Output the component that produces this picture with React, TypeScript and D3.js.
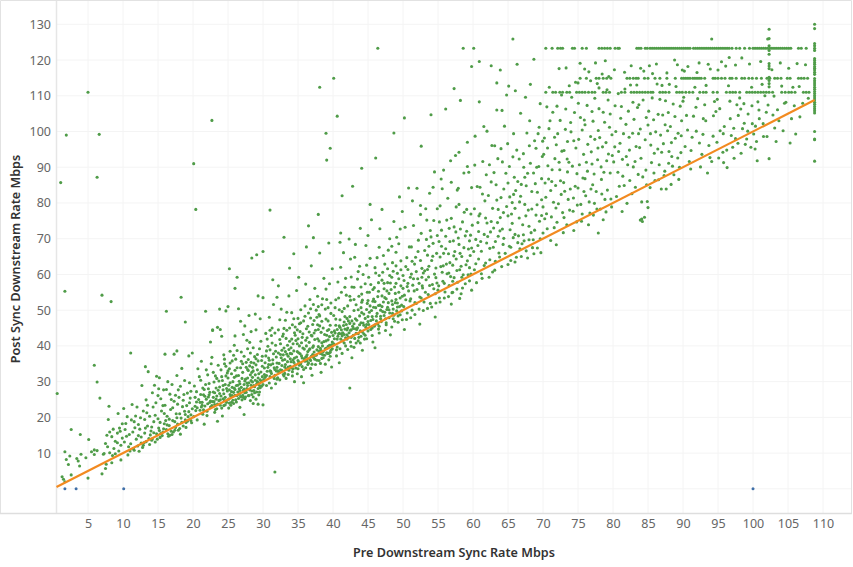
import { useEffect, useRef } from 'react'
import * as d3 from 'd3'

type Pt = [number, number]

const width = 853
const height = 567

const xTicks = d3.range(5, 111, 5)
const yTicks = d3.range(10, 131, 10)
const xTitle = 'Pre Downstream Sync Rate Mbps'
const yTitle = 'Post Sync Downstream Rate Mbps'

// pre / post rates with a zero post rate (blue marks)
const zeroPoints: Pt[] = [[1.7, 0], [3.3, 0], [10.1, 0], [100, 0]]

const outliers: Pt[] = [
  [0.6, 26.7], [1.1, 85.7], [1.9, 99], [5, 111], [6.6, 99.2], [6.3, 87.2], [1.7, 55.3], [7, 54.2], [8.3, 52.4],
  [5.9, 34.6], [6.3, 29.9], [6.7, 25.4], [11.1, 38], [16.2, 49.7], [18.3, 53.6], [18.9, 46.7], [26, 56.1],
  [31.7, 4.7], [20.1, 91], [22.7, 103.1], [20.4, 78.2], [31, 78], [46.4, 123.3], [38.1, 112.4], [40.1, 114.9],
  [40.6, 104.3], [39, 99.5], [39.6, 95.3], [39.1, 92], [42.4, 28.2], [25.2, 61.6], [26.3, 59.2], [29.1, 65.5],
  [30, 66.4], [28.4, 64.6], [33, 70.4], [36.5, 73.6], [37.9, 76.8], [41.3, 82], [42.8, 84.7], [44.1, 89.7],
  [45.3, 79.6], [46.1, 92.6], [48.7, 99.6], [50.2, 103.8], [52.6, 95.9], [54, 104.7], [57.3, 112], [59.8, 118.2],
  [60.9, 119.6], [62.6, 118.4], [65.7, 125.9], [63.4, 113.6], [58.2, 108.7], [56.1, 106.3], [100.6, 91.8], [95.8, 91.3],
  [105.3, 96.8], [102.1, 125.9], [94.1, 125.9], [97.5, 98], [84.2, 74.8], [83.9, 75.2], [71.9, 68.3], [77.9, 71.6],
]

const pointsTo10: Pt[] = [
  [1.3, 3.4], [1.5, 2.7], [1.7, 2], [1.7, 10.4], [2.4, 9.2], [1.9, 8.2], [2.2, 6.8], [2.6, 16.6], [2.6, 3.9], [3.9, 15.2],
  [3.4, 8.5], [3.6, 7.8], [3.8, 6.4], [4, 9.7], [4.7, 8.7], [5.1, 13.8], [5, 3], [5.5, 10.4], [5.9, 10.9], [5.9, 9.6],
  [6.3, 10.7], [7, 4.2], [7.5, 5.7], [7.2, 9.7], [7.6, 6.9], [8, 23.1], [7.9, 19.4], [7.7, 15], [7.5, 12.7], [8.4, 7.3],
  [9.3, 21.1], [8.1, 15.9], [8.4, 14.6], [8.6, 16.7], [8.9, 13.3], [9.2, 15.6], [9.5, 17], [9.7, 12.2], [9.9, 14.2], [8.1, 10.1],
  [8.5, 9.3], [8.9, 9.8], [9.4, 10.6], [9.7, 8.1], [9.2, 12.9], [7.3, 9.9], [7.8, 11.8], [8.7, 11.3], [9.9, 18.2], [9.6, 16.1],
]

const points10to20: Pt[] = [
  [10.1, 22.5], [11.3, 23.6], [10.6, 20.2], [12, 22.9], [12.9, 21.8], [10.4, 18.3], [11.2, 19.3], [12.2, 18], [13.1, 19.4], [13.8, 20.3],
  [10.2, 13.1], [10.5, 14.7], [10.8, 11.8], [11.1, 12.6], [11.4, 15.9], [11.6, 10.8], [11.9, 13.9], [12.1, 12], [12.4, 16.7], [12.6, 14.5],
  [12.8, 11.6], [13.1, 15.6], [13.3, 13.2], [13.5, 17.6], [13.8, 12.4], [14, 16.2], [14.2, 14], [14.4, 18.8], [14.6, 13.1], [14.8, 15.4],
  [15, 19.6], [15.1, 17], [15.3, 14.4], [15.5, 21.8], [15.7, 15.9], [15.9, 18.2], [16, 23.4], [16.2, 16.6], [16.3, 20.3], [16.5, 14.7],
  [16.6, 17.7], [16.8, 22.2], [17, 15.2], [17.1, 19.1], [17.3, 24.5], [17.4, 16.4], [17.6, 21], [17.8, 18.1], [18, 25.6], [18.1, 16.9],
  [18.3, 19.8], [18.5, 23], [18.6, 17.6], [18.8, 21.7], [19, 18.6], [19.2, 26.8], [19.3, 20.2], [19.5, 24.1], [19.7, 19.1], [19.9, 22.4],
  [10.7, 9.5], [11.5, 11.2], [12.3, 10.5], [13, 12.9], [14.1, 13.6], [14.9, 13.9], [15.6, 14.9], [16.4, 15.4], [17.2, 15.9], [18.2, 15.3],
  [19, 17.2], [19.8, 18.5], [14.5, 29], [14.8, 31.5], [15.2, 31.1], [15.8, 27.7], [16.4, 30], [17, 29.2], [17.7, 31.7], [18.8, 30.3],
  [19.5, 29.7], [13.2, 34.2], [13.6, 32.8], [12.7, 28.9], [15.1, 28], [16.7, 26.5], [17.9, 27.7], [18.4, 33.7], [19.4, 37.2], [17.3, 37.7],
  [17.7, 38.6], [16, 37.7], [19.9, 38], [11.6, 18.8], [13.4, 21.3], [14.3, 22.9], [14.7, 24.1], [15.4, 25.2], [16.9, 25], [18.7, 26.4],
  [13.9, 15.1], [15.2, 16.3], [16.1, 19.1], [17.5, 17.2], [18.9, 20.8], [19.6, 25.4], [12.5, 19.9], [14.1, 17.3], [15.9, 21.1], [17.8, 23.7],
  [10.9, 15.2], [11.7, 17.1], [12.6, 12.8], [13.7, 14.1], [14.4, 15.7], [15.3, 18.6], [15.8, 16.8], [16.6, 19.5], [16.9, 16.1], [17.7, 19.9],
  [18.1, 21], [18.4, 18.6], [19.1, 23.3], [19.4, 21.6], [12.2, 14.9], [13.2, 17], [14.6, 20.6], [15.7, 23.3], [17.1, 22.7], [18.6, 24.8],
  [16.3, 17.9], [17.4, 18.8], [18.9, 19.3], [19.7, 20.7], [15.4, 15.5], [16.7, 15], [17.9, 16.4], [19.2, 18.9], [11, 10.6], [12.9, 12.2],
  [10.3, 16.6], [11.8, 20.4], [13.5, 23.4], [15, 26.1], [16.2, 27.8], [17.5, 26.2], [18.2, 28.7], [19.7, 27.3], [14.2, 26.9], [13.3, 24.9],
]

const points20to30: Pt[] = [
  [20.1, 20.2], [20.3, 23.1], [20.5, 27.2], [20.6, 19.3], [20.8, 25], [21, 22], [21.1, 30.4], [21.3, 24.2], [21.4, 20.9], [21.6, 27.8],
  [21.7, 23.2], [21.9, 33.3], [22, 21.7], [22.2, 25.7], [22.3, 29.5], [22.5, 22.9], [22.6, 35], [22.8, 24.4], [22.9, 27.1], [23.1, 21.4],
  [23.2, 31.6], [23.4, 26], [23.5, 23.7], [23.6, 34.6], [23.8, 28.5], [23.9, 24.9], [24.1, 22.6], [24.2, 30.3], [24.4, 26.6], [24.5, 36.3],
  [24.6, 23.5], [24.8, 28.1], [24.9, 32.4], [25.1, 25.1], [25.2, 24], [25.3, 29.7], [25.5, 27.2], [25.6, 35.8], [25.8, 23.9], [25.9, 31.2],
  [26, 26.2], [26.2, 28.9], [26.3, 33.9], [26.5, 25.3], [26.6, 30.1], [26.7, 27.5], [26.9, 38.3], [27, 24.9], [27.1, 32.6], [27.3, 29.2],
  [27.4, 26.9], [27.6, 35.4], [27.7, 28.1], [27.8, 31], [28, 26.1], [28.1, 41], [28.3, 30.3], [28.4, 27.4], [28.5, 34], [28.7, 28.9],
  [28.8, 37], [28.9, 31.9], [29.1, 27.1], [29.2, 33.3], [29.4, 29.7], [29.5, 39.2], [29.6, 28.3], [29.8, 35.9], [29.9, 31.4], [30, 29.2],
  [20.2, 28.8], [20.7, 33.6], [21.2, 35.7], [21.5, 26.3], [21.8, 29.2], [22.1, 31.9], [22.4, 27], [22.7, 36.8], [23, 29.9], [23.3, 28.2],
  [23.7, 30.2], [24, 33.3], [24.3, 27.7], [24.7, 31.6], [25, 33], [25.4, 25.9], [25.7, 30], [26.1, 36.3], [26.4, 29], [26.8, 33.9],
  [27.2, 27.6], [27.5, 30.7], [27.9, 36.2], [28.2, 31.9], [28.6, 33], [29, 36.4], [29.3, 35.8], [29.7, 32.7], [20.4, 21.9], [21, 24.2],
  [21.9, 25.1], [22.5, 24.6], [23, 24.4], [23.4, 22.4], [23.8, 26.7], [24.3, 25.2], [24.8, 24.2], [25.3, 26.4], [25.8, 27], [26.3, 26.1],
  [26.8, 25.8], [27.3, 27.9], [27.8, 28.9], [28.3, 29], [28.8, 28.6], [29.3, 28.1], [29.8, 30.1], [22, 20.5], [23.2, 22.2], [24.4, 23.3],
  [25.5, 24.2], [26.2, 24.3], [27.4, 25.2], [28.4, 26.4], [29.5, 27.1], [24.2, 20.4], [25.1, 22.6], [27.3, 20.8], [28.6, 23.9], [30, 23.5],
  [29.3, 23.7], [26.7, 22.8], [23.5, 18.9], [21.6, 18.1], [24.1, 42.7], [22.5, 41.1], [23.9, 44.6], [22.8, 44.5], [25.3, 38.5], [26, 42.8],
  [26.8, 46.9], [27.4, 45.6], [28.9, 48.9], [28, 48.5], [29.6, 47.6], [29, 44.5], [27.2, 43.2], [27.7, 41.6], [28.6, 39.5], [25.9, 40.2],
  [24.7, 49.8], [25, 51], [23.8, 50.3], [21.8, 49.7], [22.8, 44.3], [23.5, 45.2], [29.3, 54], [30, 53.5], [26.5, 50.4], [28.3, 44],
  [21.4, 28.2], [22.9, 32.6], [24.5, 35], [26, 33.2], [27.6, 34], [29, 34.7], [28.2, 38], [25.6, 28.4], [24.6, 29.2], [23.1, 26.9],
  [22.2, 28], [21.2, 22.9], [20.9, 31.4], [25.2, 33.6], [26.6, 28], [27.9, 33.1], [28.5, 29.9], [29.4, 32.2], [29.9, 34.3], [24.1, 31.4],
  [20.3, 25.6], [20.6, 22.7], [21.1, 26.4], [21.3, 23.4], [21.7, 25.9], [22.1, 23.8], [22.3, 26.3], [22.7, 23.3], [22.9, 25.6], [23.3, 25.1],
  [23.6, 27.6], [23.9, 23.4], [24, 26], [24.3, 28.9], [24.6, 25.6], [24.9, 27.4], [25.1, 29], [25.4, 23.4], [25.6, 26.1], [25.9, 28.2],
  [26.1, 24.9], [26.4, 27.1], [26.5, 31.7], [26.9, 28.4], [27.1, 26.2], [27.4, 30.2], [27.5, 25.7], [27.8, 33.4], [28.1, 27.7], [28.2, 24.7],
  [28.5, 31.2], [28.7, 27.5], [29.1, 29.4], [29.3, 31], [29.4, 26.3], [29.6, 30.5], [29.8, 28.7], [25, 31], [25.5, 32.2], [26.2, 31.6],
  [26.7, 29.4], [27, 30.9], [27.7, 29.6], [28, 29.7], [28.4, 32.6], [28.9, 30.4], [29.2, 30], [20.5, 24.3], [21.5, 22.1], [22.4, 24.2],
  [23.1, 23.6], [23.7, 24.7], [24.5, 24.7], [25.2, 27.7], [25.7, 24.8], [26, 27.8], [26.6, 26.5], [27.2, 25.6], [27.6, 27], [27.9, 26.1],
  [28.6, 25.7], [28.8, 26.9], [29.5, 28.9], [29, 25.1], [23.4, 30.9], [24.7, 34.3], [25.8, 37.4], [26.3, 38.7], [26.9, 35.7], [27.3, 37.1],
  [27.8, 39.2], [28.3, 35.4], [28.7, 35.2], [29.2, 37.6], [29.7, 41.3], [29.9, 37.1], [28.1, 34.4], [27.1, 35], [25.3, 35.2], [24.4, 37.5],
]

const points30to40: Pt[] = [
  [30.1, 30.6], [30.2, 33.8], [30.4, 37.2], [30.5, 31.7], [30.6, 41.9], [30.8, 34.8], [30.9, 29.6], [31, 38.9], [31.2, 32.3], [31.3, 45],
  [31.4, 36.1], [31.6, 30.9], [31.7, 33.4], [31.8, 40.2], [32, 35.2], [32.1, 31.1], [32.2, 38], [32.4, 47.3], [32.5, 33.3], [32.6, 36.7],
  [32.8, 42.7], [32.9, 32], [33, 39.4], [33.2, 34.8], [33.3, 30.9], [33.4, 44.4], [33.6, 37.1], [33.7, 33.2], [33.8, 41.3], [34, 35.6],
  [34.1, 49.3], [34.2, 32.8], [34.4, 38.6], [34.5, 43.7], [34.6, 34.7], [34.8, 36.9], [34.9, 40.6], [35, 33.6], [35.2, 46.2], [35.3, 37.8],
  [35.4, 35], [35.6, 42.4], [35.7, 39.4], [35.8, 33.4], [36, 51.2], [36.1, 36.9], [36.2, 44.8], [36.4, 38.4], [36.5, 35.2], [36.6, 41], [36.8, 47.8],
  [36.9, 37.1], [37, 34.9], [37.2, 40], [37.3, 43.6], [37.4, 36.3], [37.6, 50], [37.7, 38.9], [37.8, 42], [38, 35.9], [38.1, 45.6],
  [38.2, 37.9], [38.4, 40.9], [38.5, 53.2], [38.6, 36.7], [38.8, 43.2], [38.9, 39.2], [39, 47.5], [39.2, 37.9], [39.3, 41.7], [39.4, 44.6],
  [39.6, 38.2], [39.7, 52], [39.8, 40.3], [40, 42.9], [30.3, 35.3], [30.7, 39.9], [31.1, 34.7], [31.5, 37.8], [31.9, 33], [32.3, 35.1],
  [32.7, 38.8], [33.1, 36.2], [33.5, 40.2], [33.9, 37.9], [34.3, 36.1], [34.7, 41.5], [35.1, 38.1], [35.5, 40.9], [35.9, 36.4], [36.3, 42.3],
  [36.7, 39.2], [37.1, 37.6], [37.5, 44.4], [37.9, 39.8], [38.3, 38.7], [38.7, 41.2], [39.1, 43], [39.5, 40.2], [39.9, 39.2], [30.4, 43.5],
  [30.9, 48], [31.5, 51.6], [32, 53.6], [32.6, 50.3], [33.2, 47.2], [33.7, 54], [34.2, 45.9], [34.8, 55.5], [35.4, 50.1], [36.1, 57.3],
  [36.7, 53], [37.4, 56.1], [38, 48.8], [38.7, 58.9], [39.3, 50.7], [39.9, 61.6], [30.2, 32], [30.6, 32.9], [31, 31.4], [31.6, 33.9],
  [32.1, 33], [32.7, 34.5], [33.3, 33.6], [33.9, 34.3], [34.4, 35.4], [35, 35.9], [35.6, 36.6], [36.2, 37], [36.8, 35.9], [37.3, 38.3],
  [38, 38.5], [38.5, 37.6], [39, 39.3], [39.7, 38.8], [30.5, 28.9], [31.2, 28.2], [31.8, 29.4], [32.4, 30.5], [33, 31.6], [33.6, 32], [34.2, 31.6],
  [34.9, 32.2], [35.5, 31.4], [36.1, 33.9], [36.8, 33.7], [37.5, 34.8], [38.2, 35.1], [38.9, 34.9], [39.4, 36.1], [30.8, 36.6], [32.5, 40.6],
  [34, 39.5], [35.7, 43.4], [37.1, 46], [38.4, 46.9], [39.6, 45.8], [33.4, 49.4], [35, 47.7], [36.5, 49.2], [37.8, 53.9], [39, 55.9],
  [34.5, 30], [35.8, 29.7], [37, 31.8], [38.3, 32.6], [39.8, 34.1], [31.3, 40.8], [32.9, 43.3], [34.6, 43], [36.4, 45.5], [37.7, 48],
  [33.8, 61.8], [35.1, 59.2], [36.9, 62.4], [38.1, 66], [39.4, 68.8], [32.2, 56.8], [34.4, 65.8], [36.2, 67.7], [37.2, 70.3], [31.4, 58.5],
  [30.3, 31.2], [30.7, 34], [30.9, 36], [31.1, 32.9], [31.4, 35], [31.7, 31.8], [31.9, 36.9], [32, 34], [32.3, 32.6], [32.5, 37.6],
  [32.7, 33.2], [32.8, 36], [33.1, 34.1], [33.2, 38.4], [33.5, 35.6], [33.6, 34.1], [33.9, 36.4], [34, 33.8], [34.1, 37.8], [34.3, 40.6],
  [34.5, 36.6], [34.7, 33.8], [34.9, 38.4], [35.1, 35.5], [35.2, 40], [35.5, 37.2], [35.6, 34.2], [35.9, 39.1], [36, 35.7], [36.1, 41.6],
  [36.3, 37.5], [36.4, 34.8], [36.6, 38.9], [36.7, 36.3], [36.9, 43], [37.1, 39.6], [37.2, 36.8], [37.4, 41.8], [37.6, 37.4], [37.7, 36],
  [37.9, 44.6], [38, 41.4], [38.2, 39.3], [38.3, 43.8], [38.5, 40], [38.6, 38.4], [38.8, 37.4], [39, 41.4], [39.1, 38.1], [39.2, 44.3],
  [39.3, 39.9], [39.5, 42.6], [39.6, 37.1], [39.8, 43.8], [39.9, 41.1], [31.2, 42.9], [31.8, 38.5], [32.4, 41.8], [33, 44.9], [33.3, 42.1],
  [33.7, 39], [34.1, 41.9], [34.6, 45.3], [35, 42], [35.3, 44], [35.8, 47], [36.2, 40], [36.6, 43.9], [37, 42.8], [37.3, 47.1],
  [37.8, 45.9], [38.1, 48.4], [38.6, 45], [38.9, 50.3], [39.3, 47], [39.7, 49.1], [30.5, 38.6], [31, 44.4], [31.7, 43.6], [32.2, 44.5],
  [32.9, 37.5], [33.4, 37.7], [33.8, 45], [34.4, 47.6], [34.9, 44.5], [35.4, 46.5], [36, 48.3], [36.8, 50.4], [37.2, 51.6], [37.9, 51], [38.4, 51.5],
  [39.1, 53], [39.5, 57.4], [31, 33], [32, 30.7], [33.1, 32.3], [34.3, 33.6], [35.2, 34.6], [36.3, 35.8], [37.4, 37.4], [38.4, 36.5], [39.4, 37.9],
]

const points40to50: Pt[] = [
  [40.1, 40.6], [40.2, 44.2], [40.4, 47.5], [40.5, 38.9], [40.6, 41.9], [40.8, 53.4], [40.9, 45.6], [41, 39.2], [41.2, 43.4], [41.3, 49.6],
  [41.4, 41.4], [41.6, 46.7], [41.7, 56.4], [41.8, 40], [42, 44.5], [42.1, 51.2], [42.2, 42.5], [42.4, 48.2], [42.5, 41.1], [42.6, 59.3],
  [42.8, 45.5], [42.9, 43], [43, 53], [43.2, 47.6], [43.3, 40.8], [43.4, 44.6], [43.6, 50.1], [43.7, 42.4], [43.8, 62.3], [44, 46.5],
  [44.1, 54.5], [44.2, 43.9], [44.4, 48.9], [44.5, 41.9], [44.6, 57.4], [44.8, 46], [44.9, 51.9], [45, 44.2], [45.2, 49.4], [45.3, 64.5],
  [45.4, 47.1], [45.6, 42.9], [45.7, 55.8], [45.8, 50.8], [46, 45.9], [46.1, 60.4], [46.2, 48.3], [46.4, 53.8], [46.5, 44.7], [46.6, 67.6],
  [46.8, 50], [46.9, 46.8], [47, 58.4], [47.2, 52.3], [47.3, 48.5], [47.4, 62.9], [47.6, 45.9], [47.7, 55.4], [47.8, 50.8], [48, 47.9],
  [48.1, 70], [48.2, 57.6], [48.4, 52.6], [48.5, 49.1], [48.6, 60.9], [48.8, 46.9], [48.9, 54.7], [49, 66.2], [49.2, 50.9], [49.3, 48.4],
  [49.4, 58.8], [49.6, 53.4], [49.7, 63.8], [49.8, 49.8], [50, 56.1], [40.3, 50.7], [40.7, 57.9], [41.1, 62], [41.5, 66.1], [41.9, 54.2],
  [42.3, 69.9], [42.7, 56.5], [43.1, 64.8], [43.5, 58.7], [43.9, 72.9], [44.3, 60], [44.7, 68.1], [45.1, 59.2], [45.5, 75.3], [45.9, 56.3],
  [46.3, 64.7], [46.7, 72.8], [47.1, 60.6], [47.9, 66.8], [48.7, 74.8], [49.1, 70.4], [49.5, 81.7], [49.9, 77.6],
  [40.2, 42], [40.8, 43.4], [41.4, 43.7], [42, 43.1], [42.6, 44.5], [43.2, 44.8], [43.8, 45.9], [44.4, 45.8], [45, 46.8], [45.6, 48.2],
  [46.2, 47], [46.8, 48.3], [47.4, 49.4], [48, 50.1], [48.6, 50.3], [49.2, 52], [49.8, 51.4], [40.5, 37.2], [41.3, 37.9], [42.1, 39], [43, 39.6],
  [43.9, 40.8], [44.8, 42], [45.7, 41.1], [46.6, 43.6], [47.5, 44.3], [48.4, 45.3], [49.3, 46.6], [40.9, 35.3], [42.7, 36.7], [44.2, 38.8],
  [46, 39.5], [48.2, 43.1], [49.9, 47.3], [41, 47.3], [42, 47.7], [43, 49.9], [44, 50.7], [45, 52.7], [46, 52.4], [47, 54], [48, 54.7],
  [49, 57.5], [50, 59.7], [41, 69], [42.5, 64.3], [44, 56.5], [45.2, 55], [46.5, 57.7], [47.6, 53.2], [48.5, 63.3], [49.4, 68.6], [43.7, 53.9], [42.2, 47], [41.6, 50.5],
  [40.3, 43.6], [40.4, 45.8], [40.6, 44.6], [40.7, 42.7], [40.9, 43.5], [41, 45.2], [41.1, 41.9], [41.2, 44.5], [41.3, 42.8], [41.5, 45.7],
  [41.6, 43.2], [41.7, 44.7], [41.8, 42.3], [41.9, 46], [42, 41.9], [42.1, 45], [42.3, 43.7], [42.4, 46.3], [42.5, 44.4], [42.6, 42.4], [42.7, 47],
  [42.9, 44.9], [43, 46.2], [43.1, 42.1], [43.3, 43.5], [43.4, 47.2], [43.5, 45.1], [43.6, 43.4], [43.8, 48.4], [43.9, 44.2], [44, 42.7],
  [44.1, 49.3], [44.3, 46.4], [44.4, 43.4], [44.6, 47.7], [44.7, 45.2], [44.8, 50.2], [45, 48.2], [45.1, 46], [45.3, 51.2], [45.4, 44.6],
  [45.5, 49.9], [45.7, 47.4], [45.8, 53.1], [45.9, 45.5], [46.1, 50.7], [46.3, 49.1], [46.4, 46.1], [46.5, 55.3], [46.7, 51.4], [46.8, 47.6],
  [47, 51], [47.1, 49.6], [47.3, 56], [47.4, 53.5], [47.5, 47.6], [47.7, 50.2], [47.8, 57.7], [47.9, 52.1], [48.1, 49.2], [48.3, 55.8],
  [48.4, 59.2], [48.5, 51.6], [48.7, 48.6], [48.8, 56.5], [49, 53], [49.1, 49.8], [49.2, 60.3], [49.4, 55], [49.5, 51], [49.7, 61.3], [49.9, 53.9],
  [40.4, 52.9], [41.2, 55], [41.8, 58.9], [42.4, 53.9], [43, 56.4], [43.6, 60.8], [44.2, 52.8], [44.8, 62.6], [45.4, 57.2], [46, 61.9],
  [46.6, 59.7], [47.2, 65.3], [47.8, 61.6], [48.4, 67.9], [49, 62.4], [49.6, 72.7], [40.1, 48.5], [40.9, 50.1], [41.7, 48.2], [42.5, 52.8],
  [43.3, 51.5], [44.1, 52.2], [44.9, 55], [45.7, 52.5], [46.5, 51.3], [47.3, 57.5], [48.1, 59.7], [48.9, 52.1], [49.7, 56.8], [40.6, 39.7], [41.6, 40.8],
  [42.6, 39.9], [43.6, 41.4], [44.6, 43], [45.6, 45], [46.6, 45.5], [47.6, 46.5], [48.6, 47.6], [49.6, 48.7], [41.1, 71.6], [43.2, 68.4], [45, 70.9], [47, 78.2],
]

const points50to60: Pt[] = [
  [50.1, 51], [50.2, 54.2], [50.4, 62.2], [50.6, 49.2], [50.7, 57.5], [50.9, 67.7], [51, 52.6], [51.2, 60.1], [51.3, 50], [51.5, 73.7],
  [51.6, 55.4], [51.8, 64.8], [51.9, 51.9], [52.1, 58.8], [52.2, 69.6], [52.4, 53.7], [52.5, 79.3], [52.7, 61.7], [52.8, 56.2], [53, 52.3],
  [53.1, 66.7], [53.3, 58.5], [53.4, 75.2], [53.6, 54.4], [53.7, 62.3], [53.9, 51.9], [54, 70.5], [54.2, 57.2], [54.3, 84.4], [54.5, 60.1],
  [54.6, 54.6], [54.8, 65.9], [54.9, 78.4], [55.1, 56.8], [55.2, 53.4], [55.4, 62.2], [55.5, 72.4], [55.7, 58.1], [55.8, 89.2], [56, 55.1],
  [56.1, 67.2], [56.3, 60.2], [56.4, 81.3], [56.6, 56.9], [56.7, 63.3], [56.9, 75.7], [57, 54.9], [57.2, 69.4], [57.3, 59.1], [57.5, 93.3],
  [57.6, 64.3], [57.8, 57.8], [57.9, 84.1], [58.1, 61.3], [58.2, 72.7], [58.4, 59.2], [58.5, 56.2], [58.7, 67.5], [59, 62.7],
  [59.1, 78.2], [59.3, 59.9], [59.4, 88.6], [59.6, 65.3], [59.7, 60.1], [59.9, 73.8], [50.3, 73.2], [50.8, 84.2],
  [52.6, 71.5], [53.8, 82.7], [54.4, 75.1], [55.6, 84], [56.8, 91.8],
  [58, 94.2], [59.2, 97], [59.8, 84.3], [50.5, 47.4], [51.1, 47.9], [51.7, 48.8], [52.3, 50.3], [52.9, 49.9], [53.5, 50.5],
  [54.1, 50.9], [54.7, 52], [55.3, 52.3], [55.9, 53.4], [56.5, 53.8], [57.1, 55], [57.7, 55.9], [58.3, 54.6], [58.9, 57.4], [59.5, 58.2], [50.2, 44.6],
  [52.4, 46.1], [54.6, 48.1], [56.9, 51.7], [58.1, 53.3], [59.8, 55.6], [50.6, 56.6], [51.5, 58.8], [52.7, 59.2], [53.5, 65.4], [54.7, 61.8],
  [55.8, 65.9], [57.1, 62.6], [58.4, 65], [59.5, 69.4], [51.2, 67.7], [52.5, 76.8], [53.9, 72.3], [55.3, 79.2], [56.6, 72.9], [58, 79.6], [59.2, 90.2],
  [50.4, 52.9], [50.8, 55.4], [51.1, 53.2], [51.4, 57], [51.7, 52.1], [52, 55.8], [52.3, 57.5], [52.6, 53.4], [52.9, 60.4], [53.2, 55], [53.5, 61.4],
  [53.8, 56.9], [54.1, 63.9], [54.4, 56], [54.7, 59.1], [55, 55.6], [55.3, 64.9], [55.6, 60.6], [55.9, 57.5], [56.2, 62.9], [56.5, 65.8], [56.8, 59.4],
  [57.1, 58.1], [57.4, 66.4], [57.7, 61.1], [58, 68.4], [58.3, 62.3], [58.6, 59.9], [58.9, 70.8], [59.2, 63.8], [59.5, 61.9], [59.8, 67.4],
  [50.7, 61.4], [51.3, 63.7], [51.9, 60.8], [52.5, 63.9], [53.1, 61], [53.7, 67.9], [54.3, 68.7], [54.9, 70.9], [55.5, 67.9], [56.1, 70.7], [56.7, 69.2],
  [57.3, 73.3], [57.9, 70.2], [58.5, 74.7], [59.1, 72.1], [59.7, 76.9], [52, 84.1], [54.5, 88.7], [56.9, 85.8], [58.7, 88.4], [55.2, 74.7], [57.6, 78.9],
  [50.15, 58.3], [50.55, 64.7], [51.05, 59.2], [51.65, 62.9], [52.15, 66.4], [52.75, 56.8], [53.35, 69.8], [53.65, 59.3], [54.25, 65.1], [54.85, 57.6], [55.15, 69.2], [55.75, 62.4],
  [56.25, 75.2], [56.55, 60.4], [57.25, 65.2], [57.55, 71.9], [58.15, 65.9], [58.75, 77.4], [59.35, 67.1], [59.65, 71], [51.35, 80.6], [53.25, 78.4], [55.45, 86.7], [57.75, 83.6],
]

const points60to70: Pt[] = [
  [60.2, 61.3], [60.4, 69.8], [60.6, 84.6], [60.8, 64.3], [61, 77], [61.2, 60.2], [61.4, 91.6], [61.6, 71.2], [61.8, 63.2], [62, 100.1],
  [62.2, 82.1], [62.4, 67.3], [62.6, 74.8], [62.8, 60.7], [63, 88.5], [63.2, 69.2], [63.4, 106], [63.6, 78.2], [63.8, 64.9], [64, 95.2],
  [64.2, 72.7], [64.4, 83.9], [64.6, 65.9], [64.8, 110.2], [65, 76.4], [65.2, 90.2], [65.4, 67.6], [65.6, 80.1], [65.8, 99.4], [66, 71.2],
  [66.2, 64.8], [66.4, 86], [66.6, 75.8], [66.8, 105.1], [67, 68.6], [67.2, 93.8], [67.4, 79.6], [67.6, 66.6], [67.8, 88.3], [68, 73.5],
  [68.2, 113.2], [68.4, 83.2], [68.6, 69.7], [68.8, 97.4], [69, 76.6], [69.2, 67.4], [69.4, 90.2], [69.6, 107.8], [69.8, 80.9], [70, 71.6],
  [60.3, 98.7], [60.9, 108.3], [62.7, 96.1], [63.3, 85.1], [63.9, 117.2], [64.5, 101.5], [65.1, 112.7], [65.7, 92.9],
  [66.3, 118.8], [66.9, 85.2], [67.5, 109.6], [68.1, 103], [68.7, 120.2], [69.3, 99.4], [69.9, 93], [60.5, 57.7], [61.3, 58.9], [62.3, 59.2], [63.1, 61.2],
  [64.1, 62.2], [65, 62.8], [66, 63.5], [66.9, 65], [67.8, 64.6], [68.7, 65.8], [69.7, 66.1], [60.7, 74.5], [61.7, 80.6], [62.5, 71.9], [63.5, 74.5],
  [64.3, 68.4], [65.3, 72.5], [66.1, 83.5], [67.1, 73.9], [67.9, 78], [68.9, 85.4], [69.5, 74.9], [61.1, 69.2], [62.9, 67.6], [64.7, 88.3], [66.5, 70.8],
  [68.3, 71.7], [69.1, 90], [60.1, 66.4], [63.7, 66], [65.5, 76.9], [67.3, 69.4], [69.8, 76.5], [61.9, 87.9], [63.1, 96], [65.9, 87.2], [67.7, 99.6],
  [60.4, 63], [60.8, 72], [61.2, 66.5], [61.6, 62.5], [62, 74.4], [62.4, 64.1], [62.8, 78.5], [63.2, 63.7], [63.6, 70.7], [64, 81.5], [64.4, 70.1],
  [64.8, 79], [65.2, 67.9], [65.6, 74.3], [66, 78.5], [66.4, 68.9], [66.8, 81.9], [67.2, 71.1], [67.6, 84.8], [68, 69.7], [68.4, 78.3],
  [68.8, 72.4], [69.2, 83], [69.6, 70], [60.2, 78.4], [61, 84.4], [61.8, 75.8], [62.6, 85.9], [63.4, 80.8], [64.2, 91.5], [65, 85.6], [65.8, 82.4],
  [66.6, 92.3], [67.4, 87.2], [68.2, 91.1], [69, 95.3], [69.8, 86.8], [60.7, 68.1], [62.1, 70.6], [63.9, 75.9], [65.4, 63.9], [66.7, 67.2], [68.5, 67.5],
  [60.25, 90.6], [60.85, 76.4], [61.35, 82.5], [61.95, 68.8], [62.35, 90.7], [62.95, 73], [63.55, 92.4], [63.85, 72.2], [64.35, 77.3], [64.95, 96.6], [65.25, 81.7], [65.75, 70.3],
  [66.25, 94.8], [66.65, 80.3], [67.25, 90], [67.55, 76.4], [68.05, 96], [68.65, 88.4], [69.15, 79.5], [69.45, 101.2], [69.95, 97.3], [61.55, 101.4], [64.15, 105.9], [66.05, 111.4],
]

const points70to80: Pt[] = [
  [70.2, 98.2], [70.5, 77], [70.8, 86.7], [71.1, 69.5], [71.4, 105.4], [71.7, 92.4], [72, 74.6], [72.3, 117.6], [72.6, 82.4], [72.9, 71.7],
  [73.2, 100.6], [73.5, 88.7], [73.8, 78], [74.1, 109.6], [74.4, 72.3], [74.7, 95.4], [75, 84.2], [75.3, 119.1], [75.6, 76.9], [75.9, 103.2],
  [76.2, 91.4], [76.5, 73.9], [76.8, 114.2], [77.1, 85.1], [77.4, 97.8], [77.7, 78.3], [78, 106.4], [78.3, 90.1], [78.6, 75.3], [78.9, 119.8],
  [79.2, 83.6], [79.5, 101.2], [79.8, 78.9], [70.3, 85.6], [70.9, 112.4], [71.5, 80.2], [72.1, 99.4], [72.7, 94.5], [73.3, 117.8], [73.9, 83.9],
  [74.5, 105.3], [75.1, 97.8], [75.7, 87], [76.3, 107.3], [76.9, 94.3], [77.5, 119.2], [78.1, 98.3], [78.7, 88.6], [79.3, 108.8], [79.9, 93.3],
  [70.6, 72.8], [71.2, 76.1], [71.8, 84.9], [72.4, 89.3], [73, 75.9], [73.6, 81], [74.2, 90.3], [74.8, 74.7], [75.4, 79.6], [76, 86.8], [76.6, 80.3],
  [77.2, 76.6], [77.8, 92.1], [78.4, 82.5], [79, 77.5], [79.6, 88.4], [70.1, 93.6], [71, 103], [72, 107.1], [73, 94.7], [74, 99.9], [75, 113.6],
  [76, 101.9], [77, 105.6], [78, 112.2], [79, 96.9], [71.3, 89.3], [72.8, 77.3], [74.3, 77.7], [75.8, 93.6], [77.3, 88.1], [78.8, 102.6], [79.4, 115.4],
  [70.4, 81.6], [70.7, 90.4], [71.6, 73.1], [71.9, 96.3], [72.2, 79.8], [72.5, 86.2], [73.1, 83.3], [73.4, 73.9], [73.7, 91.4], [74.6, 84.7], [74.9, 79.4],
  [75.2, 90.7], [75.5, 74.9], [76.1, 82], [76.4, 96.4], [76.7, 77.2], [77, 90.9], [77.6, 83.2], [77.9, 100.3], [78.2, 78.3], [78.5, 95.7], [79.1, 91.8],
  [79.7, 81.1], [70, 78.9], [71.1, 83.5], [72.3, 91.4], [73.5, 97.2], [74.4, 97.4], [75.6, 100.4], [76.8, 98.6], [77.4, 109.3], [78.6, 105.4], [79.6, 104.9],
  [70.25, 75.6], [70.65, 95.4], [71.25, 86], [71.85, 78.6], [72.45, 103.1], [72.95, 85.7], [73.45, 92.3], [73.95, 102.5], [74.35, 81.4], [74.85, 88.2], [75.35, 103.9], [75.85, 83.2],
  [76.35, 88.9], [76.85, 83.9], [77.35, 79.9], [77.85, 95.4], [78.35, 86.6], [78.85, 81], [79.35, 93.7], [79.85, 99.1], [72.65, 110.2], [74.65, 113.8], [76.55, 116.7], [78.45, 116.1],
  [70.85, 100.8], [71.65, 98.4], [73.25, 106.3], [75.05, 107.9], [77.15, 102.9], [79.15, 111.7], [70.55, 106.9], [73.75, 112.8], [75.95, 117.5], [77.75, 113.4],
]

const points80to90: Pt[] = [
  [80.2, 117.3], [80.5, 81.8], [80.8, 94.4], [81.1, 103.7], [81.4, 87.5], [81.7, 111.9], [82, 79.9], [82.3, 98.4], [82.6, 118.4], [82.9, 90.1],
  [83.2, 84.4], [83.5, 106.7], [83.8, 95.5], [84.1, 80.3], [84.4, 116.9], [84.7, 89.2], [85, 101.8], [85.3, 84.3], [85.6, 109.4], [85.9, 93.9],
  [86.2, 118.9], [86.5, 86.5], [86.8, 99], [87.1, 104.6], [87.4, 88.9], [87.7, 116.4], [88, 94.4], [88.3, 85.2], [88.6, 107.7], [88.9, 98.1],
  [89.2, 118.7], [89.5, 90], [89.8, 103], [80.3, 107.2], [81, 96.7], [81.6, 84.9], [82.2, 105.7], [82.8, 99.5], [83.4, 113], [84, 92.5], [84.6, 97.7],
  [85.2, 118.4], [85.8, 103.3], [86.4, 95.1], [87, 112.9], [87.6, 83.9], [88.2, 101.4], [88.8, 120], [89.4, 86.6], [90, 108.5], [80.7, 88.6], [81.3, 77.6],
  [82.4, 86.3], [83.6, 88], [84.9, 80.4], [86, 86.3], [87.2, 96.6], [88.5, 90.3], [89.7, 94.1], [80.4, 100], [81.9, 93], [83, 103.4], [84.3, 108.8],
  [85.5, 91.3], [86.7, 109], [87.9, 105.3], [89, 112.6], [89.9, 117.2], [85, 78.7], [84.5, 76], [84.1, 75.5], [86.9, 83.9],
  [80.1, 91.5], [80.9, 84.7], [81.5, 99.4], [82.1, 90.7], [82.7, 82.6], [83.3, 95.8], [83.9, 100.7], [84.8, 85.1], [85.4, 96.2], [86.1, 99.9], [86.6, 90.7],
  [87.3, 87.7], [87.8, 100.2], [88.4, 93], [88.7, 87.9], [89.3, 99.5], [89.6, 107.1], [81.2, 107], [82.5, 113], [83.7, 107.5], [85.1, 105.7], [86.3, 113.3], [87.5, 108.6],
  [80.25, 95.7], [80.75, 110.6], [81.35, 92.2], [81.85, 102], [82.35, 94.8], [82.85, 108.2], [83.15, 91.6], [83.65, 99.4], [84.25, 87.3], [84.75, 103.9], [85.35, 99.4], [85.85, 88.4],
  [86.45, 104.8], [86.95, 94.2], [87.45, 101.9], [87.95, 91.1], [88.35, 96.9], [88.85, 104.2], [89.25, 92.6], [89.75, 98.8], [81.65, 116.6], [83.95, 117.7], [85.65, 116.2], [88.05, 113.2],
]

const points90to109: Pt[] = [
  [90.3, 95.8], [90.7, 118.2], [91.1, 89.5], [91.5, 104.3], [91.9, 100.1], [92.3, 119.2], [92.7, 93.6], [93.1, 107.5], [93.5, 88.4], [93.9, 117.5],
  [94.3, 98.7], [94.7, 105.6], [95.1, 92.6], [95.5, 119.5], [95.9, 101.4], [96.3, 89.9], [96.7, 108.5], [97.1, 95.6], [97.5, 118.6], [97.9, 104.5],
  [98.3, 93.9], [98.7, 107.8], [99.1, 97.9], [99.5, 118.9], [99.9, 102.2], [100.3, 95.1], [100.7, 108.3], [101.1, 119.6], [101.5, 98.6], [101.9, 105.4],
  [102.3, 92.4], [102.7, 117.3], [103.1, 101], [103.5, 106.1], [103.9, 119.2], [104.3, 100.2], [104.7, 108.2], [105.1, 117.7], [105.5, 103.6], [105.9, 107.2],
  [106.3, 119], [106.7, 104.1], [107.1, 107.9], [107.5, 118.7], [107.9, 109.3], [90.5, 104.5], [91.3, 98.4], [92.1, 109.2], [92.9, 103.6], [93.7, 96.1],
  [94.5, 108.4], [95.3, 100.2], [96.1, 118.3], [96.9, 98.9], [97.7, 107.5], [98.5, 100.8], [99.3, 104.9], [100.1, 99.3], [100.9, 103.6], [101.7, 110],
  [103.3, 97.2], [104.5, 107.9], [106.1, 99.3], [90.9, 91.6], [92.5, 90.1], [94.1, 91.6], [95.7, 94.2], [97.3, 92.5], [98.9, 96.4], [99.7, 95.6],
  [100.5, 97.2], [102, 98.6], [103.7, 103], [105.7, 112.4], [90.1, 109.6], [91.7, 112.4], [93.3, 112.9], [94.9, 109], [96.5, 112.8], [98.1, 109.4],
  [99.8, 112.4], [101.3, 113.2], [103, 109.9], [104.1, 112.7], [106.6, 112.6], [90.2, 116.9], [92, 116.5], [93.6, 118.8], [95, 117.2], [96.6, 120.7], [98.4, 120.6],
  [90.65, 100.4], [91.15, 94.7], [91.85, 106.8], [92.35, 96.8], [92.85, 99.2], [93.25, 103], [93.85, 92.7], [94.35, 104.4], [94.85, 97], [95.25, 106.4], [95.75, 99.4], [96.25, 94.8],
  [96.75, 103.6], [97.25, 100.9], [97.85, 96.7], [98.25, 106.3], [98.75, 102.3], [99.25, 100.1], [99.85, 107.2], [100.35, 101.5], [100.85, 106], [101.45, 102.2], [102.15, 107.4], [102.85, 104.6],
]

// rows where many lines sit on the same post rate
const row123x = [58.6, 60.1, 72.5, 72.8, 74.2, 74.5, 75.6, 76.2, 78, 78.4, 78.8, 79.2, 79.6, 80.3, 80.7, 80.9, 83.4, 83.7, 84, 84.6, 84.9, 85.3, 85.6, 85.9, 86.2, 86.5, 86.8, 87.1, 87.4, 87.7, 88, 88.3, 88.6, 88.9, 89.2, 89.5, 89.8, 90.1, 90.4, 90.7, 91, 91.5, 91.8, 92.1, 92.4, 92.7, 93, 93.3, 93.6, 93.9, 94.2, 94.5, 94.8, 95.1, 95.4, 95.7, 96, 96.3, 96.6, 97, 97.6, 98.1, 98.8, 99.5, 100, 100.3, 100.6, 100.9, 101.2, 101.5, 101.8, 102.1, 102.4, 102.7, 103, 103.3, 103.6, 103.9, 104.2, 104.5, 104.8, 105.1, 105.4, 106.5, 106.9, 107.6, 70.4, 71.3, 72.1]
const row115x = [75.3, 76.2, 77.6, 78, 78.6, 79.1, 79.7, 82, 82.4, 82.9, 83.3, 83.6, 84.5, 85, 86, 86.7, 87.7, 88.9, 89.8, 90.1, 90.4, 90.7, 91, 91.4, 91.7, 92, 92.3, 92.6, 93.1, 94.3, 94.6, 95, 95.5, 96, 96.7, 97, 97.6, 98.4, 98.8, 99.4, 99.9, 100.5, 101.2, 102, 102.4, 103.1, 103.5, 104, 104.9, 105.3, 106.5, 106.9, 107.3, 107.8]
const row111x = [70.4, 71.4, 71.8, 72.4, 72.8, 73.4, 73.8, 74.8, 75.2, 75.6, 76, 76.5, 77, 77.4, 78.6, 79, 79.5, 81.2, 81.7, 82.6, 83, 83.4, 83.8, 84.2, 84.6, 85, 85.4, 85.7, 86.7, 87.1, 87.5, 88, 89.1, 89.5, 89.9, 90.4, 90.9, 91.4, 92.4, 92.9, 93.3, 94.3, 94.9, 96.2, 96.7, 97.1, 97.5, 98.1, 99.1, 99.5, 99.9, 100.3, 100.7, 101.1, 101.5, 101.9, 102.3, 102.8, 104.1, 104.6, 105.1, 105.5, 106, 107.2, 107.6, 108]

// vertical stacks at the top pre rate and at about 102
const col109y = [130, 128.8, 124.6, 124, 123.3, 122.7, 120.4, 119.9, 119.3, 118.8, 118.2, 117.7, 117.2, 116.6, 116, 114.8, 114.2, 113.6, 113, 112.4, 111.8, 111.2, 110.6, 110, 109.4, 108.8, 108.2, 107.6, 107, 106.4, 105.8, 105.2, 100, 97.7, 97.9, 91.7]
const col102y = [128.6, 126, 124, 122.7, 121.6, 119, 118.3, 117.6, 115.2, 114.3, 113.4, 112.5]

const allGreen: Pt[] = [
  ...outliers, ...pointsTo10, ...points10to20, ...points20to30, ...points30to40, ...points40to50,
  ...points50to60, ...points60to70, ...points70to80, ...points80to90, ...points90to109,
  ...row123x.map((x): Pt => [x, 123.3]),
  ...row115x.map((x): Pt => [x, 114.9]),
  ...row111x.map((x): Pt => [x, 111]),
  ...col109y.map((y): Pt => [108.8, y]),
  ...col102y.map((y): Pt => [102.3, y]),
]

const parityLine: Pt[] = [[0.5, 0.5], [108.8, 108.8]]

const App = () => {
  const ref = useRef<SVGSVGElement>(null)

  useEffect(() => {
    const svg = d3.select(ref.current)
    svg.selectAll('*').remove()

    const x = d3.scaleLinear().domain([0.5, 114]).range([56.5, 851])
    const y = d3.scaleLinear().domain([-6.9, 136.8]).range([513.5, 0])
    const font = '"Noto Sans", sans-serif'

    // Gridlines
    svg.append('g')
      .selectAll('line')
      .data(xTicks)
      .join('line')
      .attr('x1', d => x(d))
      .attr('x2', d => x(d))
      .attr('y1', 1)
      .attr('y2', 513)
      .attr('stroke', '#f4f4f4')
    svg.append('g')
      .selectAll('line')
      .data([0, ...yTicks])
      .join('line')
      .attr('x1', 56)
      .attr('x2', 851)
      .attr('y1', d => y(d))
      .attr('y2', d => y(d))
      .attr('stroke', '#f4f4f4')

    // Frame and axis rules
    svg.append('path')
      .attr('d', 'M0.5,513V0.5H851.5V513')
      .attr('fill', 'none')
      .attr('stroke', '#e2e2e2')
    svg.append('line').attr('x1', 56.5).attr('x2', 56.5).attr('y1', 1).attr('y2', 513).attr('stroke', '#e6e6e6').attr('stroke-width', 1.5)
    svg.append('line').attr('x1', 0).attr('x2', 852).attr('y1', 513.5).attr('y2', 513.5).attr('stroke', '#dedede').attr('stroke-width', 1.5)

    // Axes
    const xAxis = d3.axisBottom(x).tickValues(xTicks).tickSize(0).tickPadding(6)
    const yAxis = d3.axisLeft(y).tickValues(yTicks).tickSize(0).tickPadding(5)
    const gx = svg.append('g').attr('transform', 'translate(0,513)').call(xAxis)
    const gy = svg.append('g').attr('transform', 'translate(56,0)').call(yAxis)
    for (const g of [gx, gy]) {
      g.select('.domain').remove()
      g.selectAll('text').attr('fill', '#666').style('font', `12.5px ${font}`)
    }

    // Marks
    svg.append('g')
      .selectAll('circle')
      .data(allGreen)
      .join('circle')
      .attr('cx', d => x(d[0]))
      .attr('cy', d => y(d[1]))
      .attr('r', 1.55)
      .attr('fill', '#4f9c48')
    svg.append('g')
      .selectAll('circle')
      .data(zeroPoints)
      .join('circle')
      .attr('cx', d => x(d[0]))
      .attr('cy', d => y(d[1]))
      .attr('r', 1.5)
      .attr('fill', '#3f6fa8')

    const line = d3.line<Pt>().x(d => x(d[0])).y(d => y(d[1]))
    svg.append('path')
      .attr('d', line(parityLine))
      .attr('fill', 'none')
      .attr('stroke', '#f28a20')
      .attr('stroke-width', 2.2)

    // Titles
    svg.append('text')
      .attr('x', 454)
      .attr('y', 557)
      .attr('text-anchor', 'middle')
      .attr('fill', '#333')
      .style('font', `600 12.6px ${font}`)
      .text(xTitle)
    svg.append('text')
      .attr('transform', 'translate(20,259) rotate(-90)')
      .attr('text-anchor', 'middle')
      .attr('fill', '#333')
      .style('font', `600 12.6px ${font}`)
      .text(yTitle)
  }, [])

  return <svg ref={ref} width={width} height={height} style={{ position: 'absolute', left: 0, top: 0, background: '#fff' }} />
}

export default App
